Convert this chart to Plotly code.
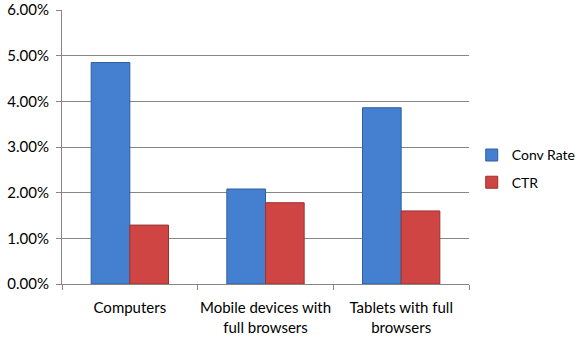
import plotly.graph_objects as go

categories = ["Computers", "Mobile devices with<br>full browsers", "Tablets with full<br>browsers"]
conv_rate = [0.0485, 0.0208, 0.0386]
ctr = [0.0129, 0.0178, 0.0160]

FONT = "Lato"

fig = go.Figure()
fig.add_trace(go.Bar(x=categories, y=conv_rate, name="Conv Rate", legendgroup="a",
                     marker=dict(color="#4580D0", line=dict(color="#2F5F9E", width=1))))
fig.add_trace(go.Bar(x=categories, y=ctr, name="CTR", legendgroup="b",
                     marker=dict(color="#CF4543", line=dict(color="#9C3230", width=1))))

fig.update_layout(
    width=586, height=344,
    margin=dict(l=62, r=117, t=10, b=60, autoexpand=False),
    paper_bgcolor="white", plot_bgcolor="white",
    font=dict(family=FONT, size=15, color="#000000"),
    barmode="group", bargap=0.43, bargroupgap=0,
    showlegend=True,
    legend=dict(xref="container", x=0.805, xanchor="left", y=0.42, yanchor="middle",
                font=dict(family=FONT, size=14), itemwidth=30,
                tracegroupgap=6, bgcolor="rgba(0,0,0,0)"),
)
fig.update_yaxes(range=[0, 0.06], dtick=0.01, tickformat=".2%",
                 showgrid=True, gridcolor="#868686", gridwidth=1,
                 showline=True, linecolor="#868686", linewidth=1,
                 ticks="outside", ticklen=5, tickcolor="#868686",
                 zeroline=False, ticklabelstandoff=4, automargin=False)
fig.update_xaxes(showline=True, linecolor="#868686", linewidth=1,
                 ticks="outside", ticklen=5, tickcolor="#868686",
                 tickson="boundaries", showgrid=False, tickangle=0,
                 automargin=False, ticklabelstandoff=10)

fig.write_html("out.html")
